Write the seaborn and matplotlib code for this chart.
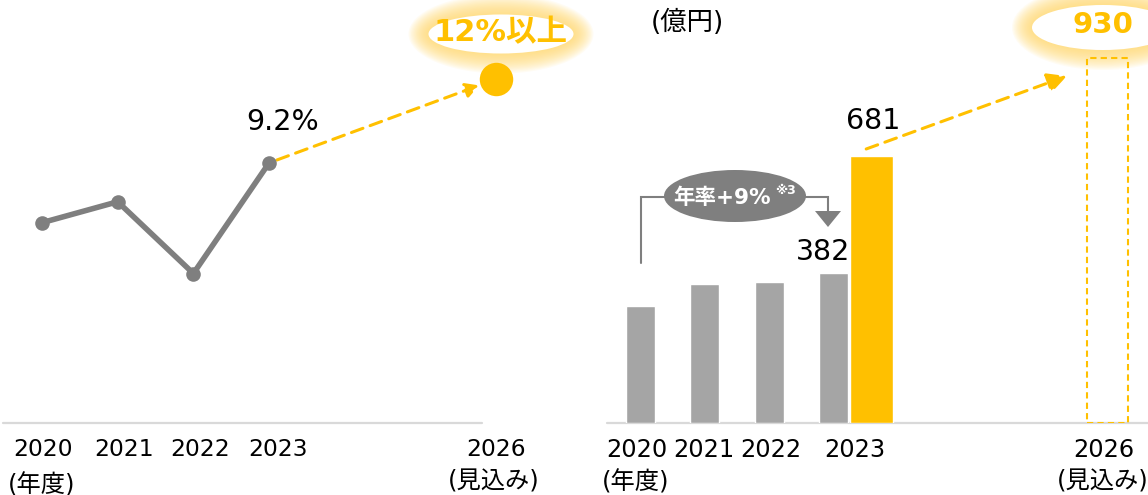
import matplotlib
matplotlib.use("Agg")
import matplotlib.pyplot as plt
import seaborn as sns
from matplotlib.patches import Ellipse, Polygon

# 営業利益率 (%)
margin_years = ["2020", "2021", "2022", "2023"]
margin_values = [7.2, 7.9, 5.5, 9.2]
margin_target_year = "2026"
margin_target = 12

# 売上高 (億円)
sales_years = ["2020", "2021", "2022", "2023"]
sales_values = [298, 355, 360, 382]
sales_2023_total = 681
sales_target_year = "2026"
sales_target = 930
cagr_label = "年率+9%"

YELLOW = "#FFC000"
GRAY_LINE = "#7F7F7F"
GRAY_BAR = "#A5A5A5"
BASE = "#D9D9D9"

W, H = 1148, 495
BASE_PX = 423

sns.set_theme(style="white")
plt.rcParams["font.family"] = ["DejaVu Sans", "Noto Sans CJK JP"]

fig = plt.figure(figsize=(W / 100, H / 100), dpi=100)
fig.patch.set_facecolor("white")

# decoration layer in pixel coordinates
deco = fig.add_axes([0, 0, 1, 1], zorder=0)
deco.set_xlim(0, W)
deco.set_ylim(H, 0)
deco.axis("off")


def panel(x0, x1):
    ax = fig.add_axes([x0 / W, (H - BASE_PX) / H, (x1 - x0) / W, BASE_PX / H],
                      zorder=1, facecolor="none")
    for s in ax.spines.values():
        s.set_visible(False)
    return ax


def glow_ellipse(cx, cy, w, h, spread=20, steps=16):
    for i in range(steps, 0, -1):
        r = spread * i / steps
        deco.add_patch(Ellipse((cx, cy), w + 2 * r, h + 2 * r, color="#FFD966",
                               alpha=0.075, lw=0))
    deco.add_patch(Ellipse((cx, cy), w, h, color="white", lw=0))


# ---------------- left: operating margin ----------------
ax1 = panel(0, 580)
m_step, m_origin = 75.7, 42
ax1.set_xlim(-m_origin / m_step, (580 - m_origin) / m_step)
m_scale, m_floor = 29.9, 0.5
ax1.set_ylim(m_floor, m_floor + BASE_PX / m_scale)

m_pos = [int(y) - 2020 for y in margin_years]
t_pos = int(margin_target_year) - 2020

sns.lineplot(x=m_pos, y=margin_values, ax=ax1, color=GRAY_LINE, linewidth=4,
             marker="o", markersize=10.5, markeredgewidth=0, zorder=3)
sns.scatterplot(x=[t_pos], y=[margin_target], ax=ax1, s=580, color=YELLOW,
                linewidth=0, zorder=5)

ax1.annotate("", xy=(t_pos, margin_target), xytext=(m_pos[-1], margin_values[-1]),
             arrowprops=dict(arrowstyle="-|>,head_length=0.4,head_width=0.22",
                             color=YELLOW, lw=2.2, linestyle=(0, (4, 2.5)),
                             shrinkA=6, shrinkB=13, mutation_scale=20), zorder=2)

ax1.annotate(f"{margin_values[-1]}%", xy=(m_pos[-1], margin_values[-1]),
             xytext=(14, 41), textcoords="offset pixels", ha="center", va="center",
             fontsize=20.5, color="black")
ax1.annotate(f"{margin_target}%以上", xy=(t_pos, margin_target),
             xytext=(4, 46), textcoords="offset pixels", ha="center", va="center",
             fontsize=22, fontweight="bold", color=YELLOW)
glow_ellipse(501, 34, 145, 39)

ax1.axhline(m_floor, xmin=3 / 580, xmax=482 / 580, color=BASE, lw=1.6, clip_on=False)
m_tick_shift = [0.01, 0.08, 0.09, 0.12]
ax1.set_xticks([p + s for p, s in zip(m_pos, m_tick_shift)] + [t_pos],
               margin_years + [margin_target_year])
ax1.tick_params(axis="x", length=0, pad=11, labelsize=16.8, labelcolor="black")
ax1.set_yticks([])
ax1.set_xlabel("")
ax1.set_ylabel("")

# ---------------- right: sales ----------------
ax2 = panel(580, 1148)
s_step, s_origin = 64.3, 60.5
s_scale = 0.392

s_pos = list(range(len(sales_years)))
total_pos = s_pos[-1] + 0.59
target_pos = 7.26

sns.barplot(x=s_pos, y=sales_values, native_scale=True, width=0.45, color=GRAY_BAR,
            saturation=1, errorbar=None, ax=ax2)
sns.barplot(x=[total_pos], y=[sales_2023_total], native_scale=True, width=0.67,
            color=YELLOW, saturation=1, errorbar=None, ax=ax2)
sns.barplot(x=[target_pos], y=[sales_target], native_scale=True, width=0.64,
            color=YELLOW, fill=False, saturation=1, errorbar=None,
            linestyle=(0, (3, 2)), linewidth=1.5, ax=ax2)
ax2.set_xlim(-s_origin / s_step, (568 - s_origin) / s_step)
ax2.set_ylim(0, BASE_PX / s_scale)

ax2.annotate("", xy=(target_pos - 0.63, sales_target - 45),
             xytext=(total_pos - 0.08, sales_2023_total + 18),
             arrowprops=dict(arrowstyle="-|>,head_length=0.58,head_width=0.3",
                             color=YELLOW, lw=2.2, linestyle=(0, (4, 2.5)),
                             shrinkA=0, shrinkB=0, mutation_scale=20))

ax2.annotate(f"{sales_2023_total}", xy=(total_pos, sales_2023_total),
             xytext=(1.5, 35), textcoords="offset pixels", ha="center", va="center",
             fontsize=20.5, color="black")
ax2.annotate(f"{sales_values[-1]}", xy=(s_pos[-1], sales_values[-1]),
             xytext=(-10, 21), textcoords="offset pixels", ha="center", va="center",
             fontsize=20.5, color="black")
glow_ellipse(1103, 27.5, 142, 45)
ax2.annotate(f"{sales_target}", xy=(target_pos, sales_target),
             xytext=(-4, 33), textcoords="offset pixels", ha="center", va="center",
             fontsize=21, fontweight="bold", color=YELLOW)

ax2.axhline(0, xmin=27 / 568, xmax=1, color=BASE, lw=1.6, clip_on=False, zorder=0.5)
ax2.set_xticks([-0.054, 0.98, 2.02, 3.33, 7.21],
               sales_years + [sales_target_year])
ax2.tick_params(axis="x", length=0, pad=11, labelsize=17.3, labelcolor="black")
ax2.set_yticks([])
ax2.set_xlabel("")
ax2.set_ylabel("")

# growth bracket from 2020 to 2023
deco.plot([641, 641, 828, 828], [263, 197, 197, 212], color=GRAY_LINE, lw=1.5,
          solid_joinstyle="miter", zorder=1)
deco.add_patch(Polygon([(815, 211), (841, 211), (828, 227)], closed=True,
                       color=GRAY_LINE, lw=0, zorder=1))
deco.add_patch(Ellipse((735, 196), 142, 52, color=GRAY_LINE, lw=0, zorder=2))
deco.text(722, 198, cagr_label, color="white", fontsize=15.5, fontweight="bold",
          ha="center", va="center", zorder=3)
deco.text(785, 191, "※3", color="white", fontsize=9, fontweight="bold",
          ha="center", va="center", zorder=3)

# units and axis notes
deco.text(687, 23, "(億円)", fontsize=19, ha="center", va="center", color="black")
deco.text(42, 485, "(年度)", fontsize=17.5, ha="center", va="center", color="black")
deco.text(636, 482, "(年度)", fontsize=17.5, ha="center", va="center", color="black")
deco.text(494, 481, "(見込み)", fontsize=17.5, ha="center", va="center", color="black")
deco.text(1103, 481, "(見込み)", fontsize=17.5, ha="center", va="center", color="black")

fig.savefig("out.png", dpi=100, facecolor="white")
